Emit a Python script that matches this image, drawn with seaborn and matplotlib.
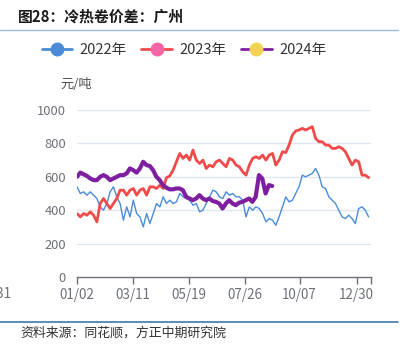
import numpy as np
import pandas as pd
import seaborn as sns
import matplotlib.pyplot as plt
from matplotlib.lines import Line2D

# values (元/吨)
tick_labels = ["01/02", "03/11", "05/19", "07/26", "10/07", "12/30"]
tick_pos = [0, 47, 94, 141, 187, 235]

y2022 = [540, 500, 510, 490, 510, 490, 470, 420, 400, 440, 510, 540, 480, 440, 340,
         420, 360, 460, 380, 360, 300, 380, 320, 380, 440, 420, 480, 440, 460, 440,
         450,
         500, 480, 470, 460, 430, 440, 390, 400, 440, 480, 520, 510, 480, 470, 510,
         490, 500, 480, 480, 460, 360, 420, 400, 420, 410, 380, 330, 350, 340, 310,
         360, 420, 480, 450, 460, 500, 540, 610, 600, 610, 620, 650, 610, 540, 530,
         480, 460, 440, 400, 360, 350, 370, 350, 320, 410, 420, 400, 360]

y2023 = [380, 360, 380, 370, 390, 370, 330, 440, 470, 440, 410, 440, 470, 520, 520,
         490, 520, 530, 490, 520, 530, 490, 540, 540, 530, 550, 530, 595, 605, 640,
         690,
         740, 710, 730, 700, 760, 700, 680, 700, 650, 670, 660, 690, 700, 680, 660,
         710, 700, 670, 660, 630, 610, 670, 710, 720, 710, 730, 700, 730, 740, 670,
         700, 750, 745, 790, 850, 875, 880, 890, 880, 890, 900, 830, 810, 810, 790,
         790, 770, 770, 780, 770, 750, 710, 670, 700, 690, 610, 610, 595]

y2024 = [600, 625, 615, 605, 590, 580, 580, 600, 610, 600, 580, 590, 600, 610, 610,
         620, 650, 640, 625, 650, 690, 670, 665, 640, 600, 580, 550, 535, 525, 525,
         530,
         530, 520, 480, 470, 460, 470, 490, 470, 460, 470, 455, 450, 440, 410, 440,
         460, 440, 430, 445, 450, 460, 470, 450, 480, 610, 590, 500, 550, 545]

series = [
    ("2022年", y2022, 245, "#4a8cd8", 1.0, "#4a8cd8"),
    ("2023年", y2023, 245, "#f04a4a", 2.0, "#f465a5"),
    ("2024年", y2024, 164, "#7e1fa0", 3.0, "#f2d250"),
]

sns.set_theme(style="white")
plt.rcParams["font.family"] = ["Noto Sans CJK SC", "DejaVu Sans"]
grey = "#6e7079"

fig = plt.figure(figsize=(4.09, 3.54), dpi=100)
ax = fig.add_axes([77 / 409, 1 - 277 / 354, 294 / 409, 167 / 354])

for name, vals, end, color, lw, _ in series:
    df = pd.DataFrame({"day": np.linspace(0, end, len(vals)), "price": vals})
    sns.lineplot(data=df, x="day", y="price", ax=ax, color=color, linewidth=lw,
                 legend=False)

ax.set_xlim(0, 247)
ax.set_ylim(0, 1000)
ax.set_yticks(np.arange(0, 1001, 200))
ax.tick_params(axis="y", length=0, labelsize=9.3, labelcolor=grey, pad=8)
ax.set_xticks(tick_pos + [247])
ax.set_xticklabels(tick_labels + [""])
ax.tick_params(axis="x", length=5, width=1, color=grey, direction="out",
               labelsize=9.7, labelcolor=grey, pad=3, bottom=True)
for y in range(200, 1001, 200):
    ax.axhline(y, color="#e0e6f1", linewidth=1, zorder=0)
for s in ["top", "right", "left"]:
    ax.spines[s].set_visible(False)
ax.spines["bottom"].set_color(grey)
ax.spines["bottom"].set_linewidth(1)
ax.set_xlabel("")
ax.set_ylabel("")
ax.grid(False)

fig.text(60 / 409, 1 - 85 / 354, "元/吨", fontsize=9.5, color="#505050", va="center")
fig.text(12 / 409, 1 - 294 / 354, "12/31", fontsize=9.7, color=grey, ha="right",
         va="center")

# title, rules and source line
fig.text(18 / 409, 1 - 17 / 354, "图28：冷热卷价差：广州", fontsize=10.7,
         fontweight="bold", color="#1a1a1a", va="center")
fig.add_artist(Line2D([0, 398 / 409], [1 - 30 / 354] * 2, color="#9dbcd8", lw=1))
fig.add_artist(Line2D([0, 398 / 409], [1 - 322 / 354] * 2, color="#3f78a8", lw=1.2))
fig.text(20 / 409, 1 - 333 / 354, "资料来源：同花顺，方正中期研究院", fontsize=9.3,
         color="#333333", va="center", style="italic")

handles = [Line2D([0], [0], color=c, lw=2, marker="o", markersize=9,
                  markerfacecolor=mc, markeredgecolor=mc)
           for _, _, _, c, _, mc in series]
fig.legend(handles, [s[0] for s in series], loc="center", ncol=3,
           bbox_to_anchor=(184 / 409, 1 - 50 / 354), frameon=False, fontsize=10.5,
           handlelength=2.1, handletextpad=0.5, columnspacing=1.0,
           labelcolor="#333333")

fig.savefig("out.png", dpi=100)
